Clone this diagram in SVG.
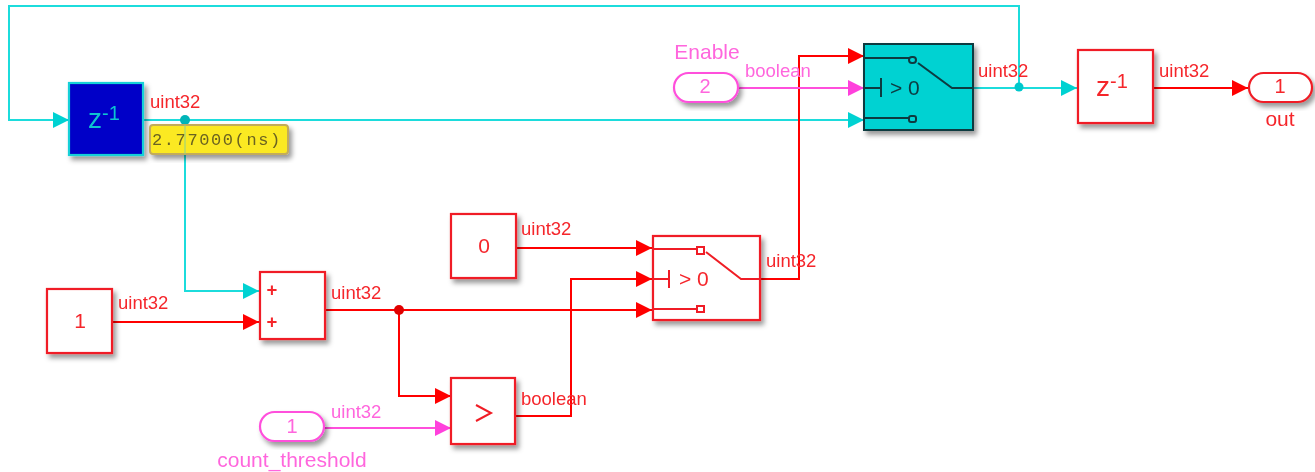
<svg xmlns="http://www.w3.org/2000/svg" width="1315" height="472" viewBox="0 0 1315 472">
<style>
text{font-family:"Liberation Sans",Arial,sans-serif;font-size:18.5px}
.r{fill:#f5262c}.m{fill:#ff66dd}.c{fill:#0cc4d0}
.mid{text-anchor:middle}
.nm{font-size:21px}
.z{font-size:28px}.s{font-size:20px}
.blk{fill:#fff;stroke:#f01f25;stroke-width:2.2;filter:url(#sh)}
.ln{fill:none;stroke-width:2}
.lr{stroke:#f00}.lm{stroke:#ff4fdc}.lc{stroke:#1cdcdc}
.in{fill:none;stroke:#f01f25;stroke-width:2}
.ik{fill:none;stroke:#0b3a40;stroke-width:2}
</style>
<defs>
<filter id="sh" x="-20%" y="-20%" width="150%" height="150%"><feDropShadow dx="3" dy="4" stdDeviation="2.5" flood-color="#000" flood-opacity="0.4"/></filter>
<filter id="soft" x="0" y="0" width="1315" height="472" filterUnits="userSpaceOnUse"><feGaussianBlur stdDeviation="0.6"/></filter>
<marker id="ar" markerUnits="userSpaceOnUse" markerWidth="17" markerHeight="18" refX="16" refY="9" orient="auto"><path d="M0,1 L16,9 L0,17 Z" fill="#f00"/></marker>
<marker id="am" markerUnits="userSpaceOnUse" markerWidth="17" markerHeight="18" refX="16" refY="9" orient="auto"><path d="M0,1 L16,9 L0,17 Z" fill="#ff3fdc"/></marker>
<marker id="ac" markerUnits="userSpaceOnUse" markerWidth="17" markerHeight="18" refX="16" refY="9" orient="auto"><path d="M0,1 L16,9 L0,17 Z" fill="#00d2d2"/></marker>
</defs>
<rect width="1315" height="472" fill="#fff"/>
<g filter="url(#soft)">
<g id="connectors">
<path class="ln lc" marker-end="url(#ac)" d="M1019,87 V6 H9 V120 H69"/>
<path class="ln lc" marker-end="url(#ac)" d="M143,120 H864"/>
<path class="ln lc" marker-end="url(#ac)" d="M185,120 V291 H259"/>
<path class="ln lc" marker-end="url(#ac)" d="M973,88 H1077"/>
<path class="ln lr" marker-end="url(#ar)" d="M112,322 H259"/>
<path class="ln lr" marker-end="url(#ar)" d="M325,310 H652"/>
<path class="ln lr" marker-end="url(#ar)" d="M399,310 V396 H451"/>
<path class="ln lr" marker-end="url(#ar)" d="M515,248 H652"/>
<path class="ln lr" marker-end="url(#ar)" d="M515,416 H571 V279 H652"/>
<path class="ln lr" marker-end="url(#ar)" d="M760,279 H799 V56 H864"/>
<path class="ln lr" marker-end="url(#ar)" d="M1153,88 H1248"/>
<path class="ln lm" marker-end="url(#am)" d="M324,428 H451"/>
<path class="ln lm" marker-end="url(#am)" d="M738,88 H864"/>
<circle cx="185" cy="120" r="5" fill="#00b4b8"/>
<circle cx="1019" cy="87" r="4.5" fill="#00c8cc"/>
<circle cx="399" cy="310" r="5" fill="#e00000"/>
</g>
<g id="delay1">
<rect x="69" y="83" width="74" height="72" fill="#0000c8" stroke="#14d0d8" stroke-width="2.2" filter="url(#sh)"/>
<text x="88" y="128" class="c z">z</text><text x="102" y="120" class="c s">-1</text>
<text x="150" y="108" class="r">uint32</text>
</g>
<g id="delay-label">
<rect x="150" y="125" width="138" height="29" rx="3" fill="#fbe920" stroke="#c2ab5c" stroke-width="2" filter="url(#sh)"/>
<text x="152" y="145" fill="#6b6320" style="font-family:'Liberation Mono',monospace;font-size:17px;letter-spacing:1.6px">2.77000(ns)</text>
<path d="M185,125 V154" stroke="#8fd08a" stroke-width="1" fill="none"/>
</g>
<g id="const1">
<rect x="47" y="289" width="65" height="64" class="blk"/>
<text x="80" y="328" class="r mid nm">1</text>
<text x="118" y="309" class="r">uint32</text>
</g>
<g id="sum">
<rect x="260" y="272" width="65" height="67" class="blk"/>
<text x="272" y="296" class="r mid" style="font-weight:bold">+</text>
<text x="272" y="328" class="r mid" style="font-weight:bold">+</text>
<text x="331" y="299" class="r">uint32</text>
</g>
<g id="inport1">
<rect x="260" y="412" width="64" height="29" rx="14.5" fill="#fff" stroke="#ff4fdc" stroke-width="2.2" filter="url(#sh)"/>
<text x="292" y="433" class="m mid s">1</text>
<text x="331" y="418" class="m">uint32</text>
<text x="292" y="467" class="m mid nm">count_threshold</text>
</g>
<g id="relational">
<rect x="451" y="378" width="64" height="66" class="blk"/>
<path d="M476,405 L491,413 L476,421" class="in"/>
<text x="521" y="405" class="r">boolean</text>
</g>
<g id="const0">
<rect x="451" y="214" width="65" height="64" class="blk"/>
<text x="484" y="253" class="r mid nm">0</text>
<text x="521" y="235" class="r">uint32</text>
</g>
<g id="switch1">
<rect x="653" y="236" width="107" height="84" class="blk"/>
<path class="in" d="M653,249 H697 M653,279 H669 M669,270 V288 M653,309 H697 M706,252 L741,279 H760"/>
<rect x="697" y="247" width="7" height="7" class="in"/>
<rect x="697" y="306" width="7" height="6" class="in"/>
<text x="679" y="286" class="r nm">&gt; 0</text>
<text x="766" y="267" class="r">uint32</text>
</g>
<g id="switch2">
<rect x="864" y="44" width="109" height="86" fill="#00d2d2" stroke="#0b3a40" stroke-width="2" filter="url(#sh)"/>
<path class="ik" d="M864,58 H909 M864,88 H881 M881,78 V97 M864,118 H909 M918,63 L952,88 H973"/>
<rect x="909" y="57" width="7" height="6" rx="3" class="ik"/>
<rect x="909" y="116" width="7" height="6" rx="2" class="ik"/>
<text x="890" y="95" fill="#0b3a40" class="nm">&gt; 0</text>
<text x="978" y="77" class="r">uint32</text>
</g>
<g id="inport2">
<rect x="674" y="73" width="64" height="29" rx="14.5" fill="#fff" stroke="#ff4fdc" stroke-width="2.2" filter="url(#sh)"/>
<text x="705" y="93" class="m mid s">2</text>
<text x="707" y="59" class="m mid nm">Enable</text>
<text x="745" y="77" class="m">boolean</text>
</g>
<g id="delay2">
<rect x="1078" y="50" width="75" height="73" class="blk"/>
<text x="1096" y="96" class="r z">z</text><text x="1110" y="88" class="r s">-1</text>
<text x="1159" y="77" class="r">uint32</text>
</g>
<g id="outport">
<rect x="1249" y="73" width="63" height="29" rx="14.5" fill="#fff" stroke="#f01f25" stroke-width="2.2" filter="url(#sh)"/>
<text x="1280" y="93" class="r mid s">1</text>
<text x="1280" y="126" class="r mid nm">out</text>
</g>
</g>
</svg>
